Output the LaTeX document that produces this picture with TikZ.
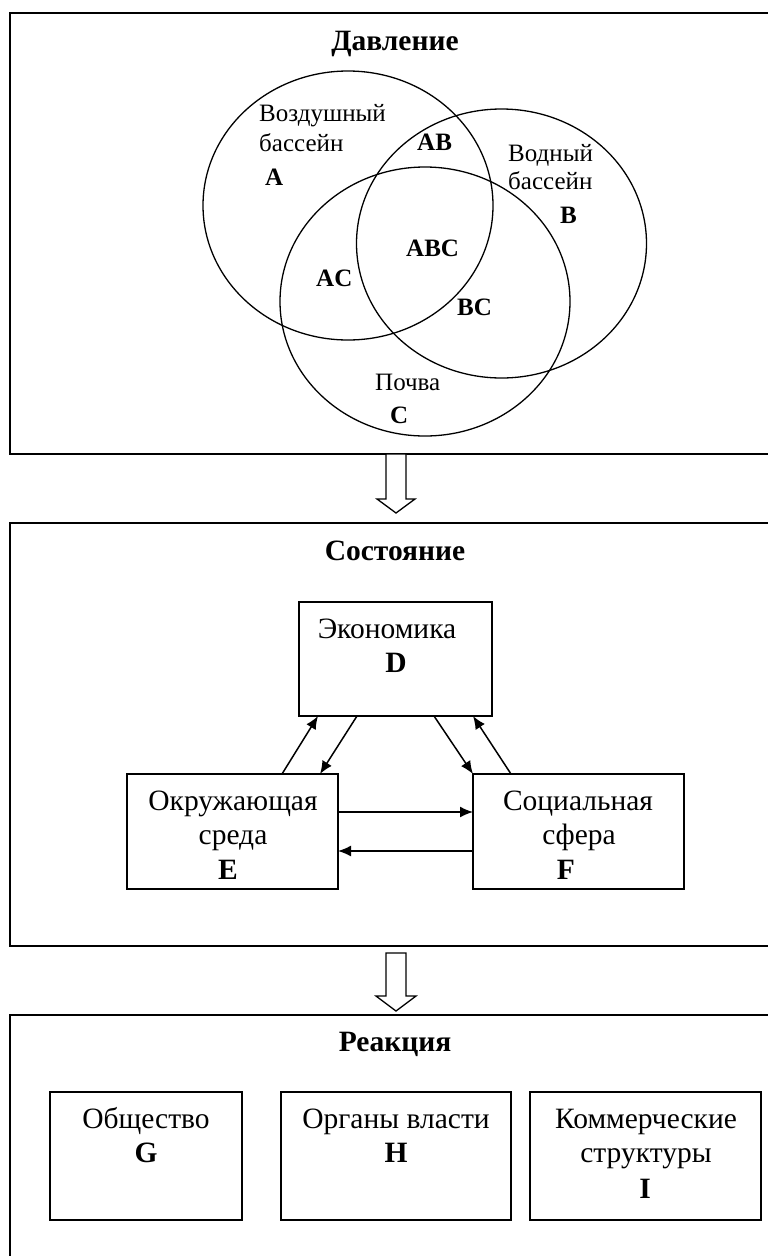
\documentclass[tikz,border=0pt]{standalone}
\usepackage{fontspec}
\setmainfont{Liberation Serif}
\usetikzlibrary{arrows.meta}
\begin{document}
\begin{tikzpicture}[x=1pt,y=-1pt,
  frame/.style={line width=2pt},
  venn/.style={line width=1.3pt},
  boxn/.style={draw, line width=1.5pt, inner sep=0pt, outer sep=0pt},
  big/.style={font=\fontsize{29.5}{34}\selectfont, inner sep=0pt, anchor=base},
  ttl/.style={font=\fontsize{29.5}{34}\selectfont\bfseries, inner sep=0pt, anchor=base},
  vl/.style={font=\fontsize{25}{29}\selectfont, inner sep=0pt, anchor=base west},
  vb/.style={font=\fontsize{25}{29}\selectfont\bfseries, inner sep=0pt, anchor=base west},
  arr/.style={line width=1.5pt, -{Latex[length=13pt,width=11pt]}},
  hollow/.style={line width=1.3pt, fill=white, line join=miter}]
\useasboundingbox (0,0) rectangle (768,1256);
\clip (0,0) rectangle (768,1256);
\fill[white] (0,0) rectangle (768,1256);

% ---------- Frame 1: Pressure ----------
\draw[frame] (10,13) rectangle (800,454);
\node[ttl] (t1) at (395,50) {Давление};
\draw[venn] (348,205.5) ellipse [x radius=145, y radius=134.5];
\draw[venn] (501.5,243.5) ellipse [x radius=145, y radius=134.5];
\draw[venn] (425,301.5) ellipse [x radius=145, y radius=134.5];
\node[vl] (a1) at (259,121) {Воздушный};
\node[vl] (a2) at (259,151) {бассейн};
\node[vb] (a3) at (265,185) {A};
\node[vb] (ab) at (417,150) {AB};
\node[vl] (b1) at (508,161) {Водный};
\node[vl] (b2) at (508,189) {бассейн};
\node[vb] (b3) at (560,223) {B};
\node[vb] (abc) at (406,256) {ABC};
\node[vb] (ac) at (316,286) {AC};
\node[vb] (bc) at (457,315) {BC};
\node[vl] (c1) at (375,390) {Почва};
\node[vb] (c2) at (390,423) {C};

% ---------- big arrow 1 ----------
\coordinate (ar1) at (396,454);
\draw[hollow] (ar1) ++(-10,0) -- ++(0,45) -- ++(-9,0) -- ++(19,14) -- ++(19,-14) -- ++(-9,0) -- ++(0,-45) -- cycle;

% ---------- Frame 2: State ----------
\draw[frame] (10,523) rectangle (800,946);
\node[ttl] (t2) at (395,560) {Состояние};
\node[boxn, minimum width=193pt, minimum height=114pt] (D) at (395.5,659) {};
\node[boxn, minimum width=211pt, minimum height=115pt] (E) at (232.5,831.5) {};
\node[boxn, minimum width=211pt, minimum height=115pt] (F) at (578.5,831.5) {};
\node[big] (d1) at (387,638) {Экономика};
\node[big,font=\fontsize{29.5}{34}\selectfont\bfseries] (d2) at (396,672) {D};
\node[big] (e1) at (233,810) {Окружающая};
\node[big] (e2) at (233,844) {среда};
\node[big,font=\fontsize{29.5}{34}\selectfont\bfseries] (e3) at (228,879) {E};
\node[big] (f1) at (578,810) {Социальная};
\node[big] (f2) at (579,844) {сфера};
\node[big,font=\fontsize{29.5}{34}\selectfont\bfseries] (f3) at (566,879) {F};

\draw[arr] ([xshift=155pt]E.north west) -- ([xshift=19pt]D.south west);
\draw[arr] ([xshift=58pt]D.south west) -- ([xshift=193pt]E.north west);
\draw[arr] ([xshift=135pt]D.south west) -- (F.north west);
\draw[arr] ([xshift=38pt]F.north west) -- ([xshift=174pt]D.south west);
\draw[arr] ([yshift=-38pt]E.north east) -- ([yshift=-38pt]F.north west);
\draw[arr] ([yshift=-77pt]F.north west) -- ([yshift=-77pt]E.north east);

% ---------- big arrow 2 ----------
\coordinate (ar2) at (396,953);
\draw[hollow] (ar2) ++(-10,0) -- ++(0,43) -- ++(-10,0) -- ++(20,15) -- ++(20,-15) -- ++(-10,0) -- ++(0,-43) -- cycle;

% ---------- Frame 3: Reaction ----------
\draw[frame] (10,1015) rectangle (800,1300);
\node[ttl] (t3) at (395,1051) {Реакция};
\node[boxn, minimum width=192pt, minimum height=128pt] (G) at (146,1156) {};
\node[boxn, minimum width=230pt, minimum height=128pt] (H) at (396,1156) {};
\node[boxn, minimum width=231pt, minimum height=128pt] (I) at (645.5,1156) {};
\node[big] (g1) at (146,1128) {Общество};
\node[big,font=\fontsize{29.5}{34}\selectfont\bfseries] (g2) at (146,1162) {G};
\node[big] (h1) at (396,1128) {Органы власти};
\node[big,font=\fontsize{29.5}{34}\selectfont\bfseries] (h2) at (396,1162) {H};
\node[big] (i1) at (646,1128) {Коммерческие};
\node[big] (i2) at (646,1162) {структуры};
\node[big,font=\fontsize{29.5}{34}\selectfont\bfseries] (i3) at (645,1198) {I};
\end{tikzpicture}
\end{document}
